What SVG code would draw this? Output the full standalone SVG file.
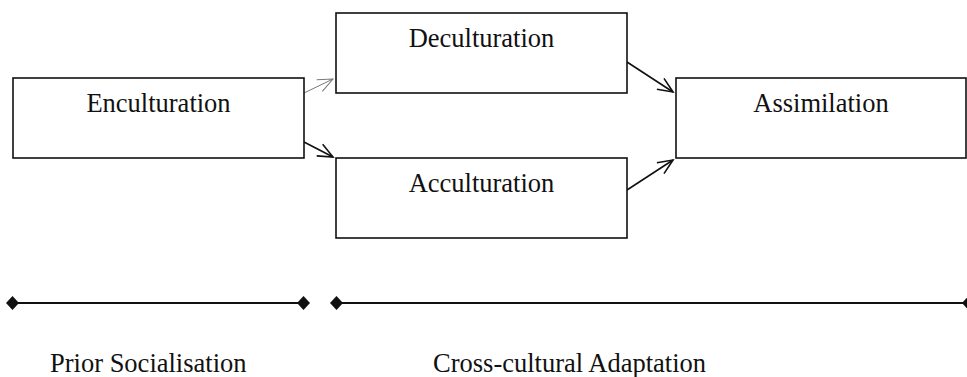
<svg xmlns="http://www.w3.org/2000/svg" width="967" height="377" viewBox="0 0 967 377">
  <style>
    .box { fill: #ffffff; stroke: #111111; stroke-width: 1.6; }
    .label { font-family: 'Liberation Serif', 'Times New Roman', Times, 'DejaVu Serif', serif; font-size: 26.5px; fill: #111111; text-anchor: middle; }
    .caption { font-family: 'Liberation Serif', 'Times New Roman', Times, 'DejaVu Serif', serif; font-size: 26.5px; fill: #111111; }
    .link { fill: none; stroke: #111111; stroke-width: 1.6; }
    .link-faint { fill: none; stroke: #777777; stroke-width: 1; }
    .span { stroke: #111111; stroke-width: 1.8; }
    .tick { fill: #111111; }
  </style>
  <defs>
    <marker id="open-arrow" markerUnits="userSpaceOnUse" markerWidth="20" markerHeight="20" viewBox="-16 -10 20 20" refX="0" refY="0" orient="auto">
      <path d="M-15,-6.5 L0,0 L-15,6.5" fill="none" stroke="#111111" stroke-width="1.6"/>
    </marker>
    <marker id="open-arrow-faint" markerUnits="userSpaceOnUse" markerWidth="20" markerHeight="20" viewBox="-16 -10 20 20" refX="0" refY="0" orient="auto">
      <path d="M-15,-6.5 L0,0 L-15,6.5" fill="none" stroke="#777777" stroke-width="1"/>
    </marker>
    <path id="diamond" d="M0,-7 L6.5,0 L0,7 L-6.5,0 Z"/>
  </defs>

  <g id="connectors">
    <line class="link-faint" x1="304" y1="93" x2="333" y2="79" marker-end="url(#open-arrow-faint)"/>
    <line class="link" x1="304" y1="142" x2="333" y2="157" marker-end="url(#open-arrow)"/>
    <line class="link" x1="627" y1="62" x2="673" y2="92" marker-end="url(#open-arrow)"/>
    <line class="link" x1="627" y1="190" x2="673" y2="160" marker-end="url(#open-arrow)"/>
  </g>

  <g id="enculturation">
    <rect class="box" x="13" y="78" width="291" height="80"/>
    <text class="label" x="158.5" y="112" font-family="Liberation Serif, serif">Enculturation</text>
  </g>

  <g id="deculturation">
    <rect class="box" x="336" y="13" width="291" height="80"/>
    <text class="label" x="481.5" y="47" font-family="Liberation Serif, serif">Deculturation</text>
  </g>

  <g id="acculturation">
    <rect class="box" x="336" y="158" width="291" height="80"/>
    <text class="label" x="481.5" y="192" font-family="Liberation Serif, serif">Acculturation</text>
  </g>

  <g id="assimilation">
    <rect class="box" x="676" y="78" width="290" height="80"/>
    <text class="label" x="821" y="112" font-family="Liberation Serif, serif">Assimilation</text>
  </g>

  <g id="timeline">
    <line class="span" x1="13" y1="303" x2="303.5" y2="303"/>
    <use href="#diamond" class="tick" x="12.5" y="303"/>
    <use href="#diamond" class="tick" x="303.5" y="303"/>
    <line class="span" x1="336.5" y1="303" x2="968" y2="303"/>
    <use href="#diamond" class="tick" x="336.5" y="303"/>
    <use href="#diamond" class="tick" x="968.5" y="303"/>
    <text class="caption" x="50" y="372" font-family="Liberation Serif, serif">Prior Socialisation</text>
    <text class="caption" x="433" y="372" font-family="Liberation Serif, serif">Cross-cultural Adaptation</text>
  </g>
</svg>
